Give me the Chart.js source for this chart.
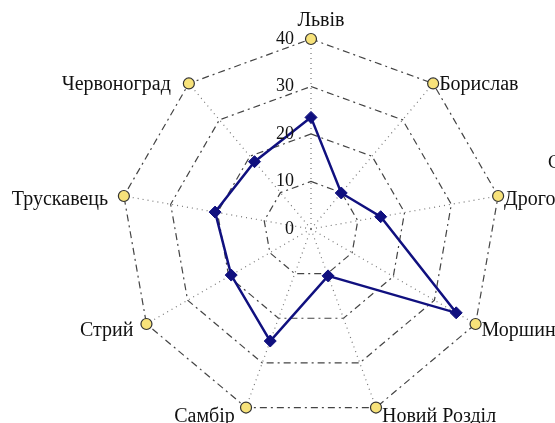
<!DOCTYPE html>
<html>
<head>
<meta charset="utf-8">
<script src="https://cdn.jsdelivr.net/npm/chart.js@4"></script>
<style>
  html, body { margin: 0; padding: 0; background: #fff; overflow: hidden; }
  #wrap { width: 555px; height: 423px; overflow: hidden; }
</style>
</head>
<body>
<div id="wrap"><canvas id="myChart" width="622" height="423"></canvas></div>
<script>
// міста
const labels = ['Львів', 'Борислав', 'Дрогобич', 'Моршин', 'Новий Розділ',
                'Самбір', 'Стрий', 'Трускавець', 'Червоноград'];
// значення серії
const values = [23.5, 9.9, 14.9, 35.3, 10.5, 25.1, 19.4, 20.5, 18.5];
// жовті маркери на зовнішньому колі
const outerValues = [40, 40, 40, 40, 40, 40, 40, 40, 40];
// підписи шкали
const tickValues = [0, 10, 20, 30, 40];

const serif = 'Liberation Serif, Times New Roman, serif';

// підписи шкали і міст малюємо самі, щоб стояли як на оригіналі
const textLayer = {
    id: 'textLayer',
    afterDraw(chart) {
        const r = chart.scales.r;
        const ctx = chart.ctx;
        ctx.save();
        ctx.fillStyle = '#111';
        ctx.textBaseline = 'middle';

        ctx.font = '18px ' + serif;
        ctx.textAlign = 'right';
        tickValues.forEach(v => {
            const d = r.getDistanceFromCenterForValue(v);
            ctx.fillText(String(v), r.xCenter - 17, r.yCenter - d);
        });

        ctx.font = '20px ' + serif;
        const outer = r.getDistanceFromCenterForValue(40);
        labels.forEach((name, i) => {
            const p = r.getPointPosition(i, outer);
            const a = i * 2 * Math.PI / labels.length;
            const cos = Math.cos(a);
            if (i === 0) {
                ctx.textAlign = 'center';
                ctx.fillText(name, p.x + 10, p.y - 18);
            } else if (a < Math.PI) {
                ctx.textAlign = 'left';
                ctx.fillText(name, p.x + 6, p.y + 4.5 * (1 - cos));
            } else {
                ctx.textAlign = 'right';
                ctx.fillText(name, p.x - (15 + 4 * cos), p.y + 4.5 * (1 - cos));
            }
        });

        // обрізаний підпис справа
        ctx.font = '18px ' + serif;
        ctx.textAlign = 'left';
        ctx.fillText('С', 548, 163);
        ctx.restore();
    }
};

const data = {
    labels: labels,
    datasets: [{
        label: 'Значення',
        data: values,
        borderColor: '#10107f',
        backgroundColor: '#10107f',
        borderWidth: 2.5,
        fill: false,
        pointStyle: 'rectRot',
        pointRadius: 6,
        pointBorderWidth: 1,
        pointBackgroundColor: '#10107f'
    }, {
        label: 'Межа',
        data: outerValues,
        showLine: false,
        fill: false,
        borderWidth: 0,
        backgroundColor: 'rgba(0,0,0,0)',
        pointStyle: 'circle',
        pointRadius: 5.5,
        pointBorderWidth: 1.2,
        pointBorderColor: '#333',
        pointBackgroundColor: '#f7e27a'
    }]
};

const config = {
    type: 'radar',
    data: data,
    options: {
        responsive: false,
        animation: false,
        devicePixelRatio: 1,
        plugins: { legend: { display: false }, tooltip: { enabled: false } },
        layout: { padding: { top: 39, bottom: 4, left: 0, right: 0 } },
        scales: {
            r: {
                min: 0,
                max: 40,
                ticks: { stepSize: 10, display: false },
                grid: { color: '#444', lineWidth: 1.2 },
                border: { dash: [7, 4, 2, 4] },
                angleLines: { color: '#777', lineWidth: 1.2, borderDash: [1, 4] },
                pointLabels: { display: false }
            }
        }
    },
    plugins: [textLayer]
};

const myChart = new Chart(document.getElementById('myChart'), config);
</script>
</body>
</html>
